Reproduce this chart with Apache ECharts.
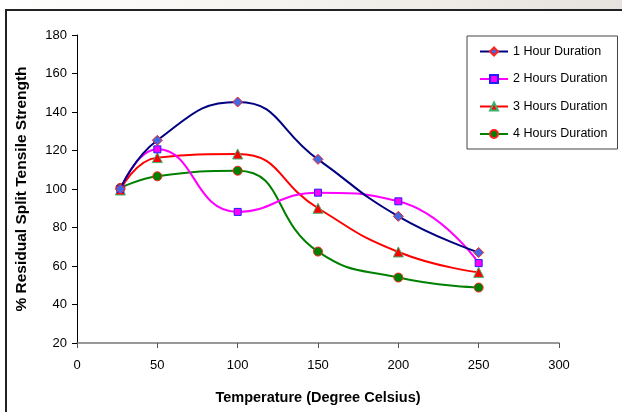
<!DOCTYPE html>
<html>
<head>
<meta charset="utf-8">
<script src="https://cdn.jsdelivr.net/npm/echarts@6/dist/echarts.min.js"></script>
<style>html,body{margin:0;padding:0;background:#fff;}#c{width:622px;height:412px;}</style>
</head>
<body>
<div id="c"></div>
<script>
const temps = [27, 50, 100, 150, 200, 250];
const oneHour = [100, 125.3, 145.2, 115.4, 85.8, 67];
const twoHours = [100, 120.6, 88.1, 98.1, 93.6, 61.5];
const threeHours = [99.5, 116.3, 118.2, 90, 67.3, 56.7];
const fourHours = [100.6, 106.6, 109.5, 67.5, 54, 48.8];
const seriesNames = ['1 Hour Duration', '2 Hours Duration', '3 Hours Duration', '4 Hours Duration'];
const xTicks = [0, 300, 50];
const yTicks = [20, 180, 20];

function pts(vals) { return temps.map((t, i) => [t, vals[i]]); }

const styles = [
  { line: '#000080', symbol: 'diamond', size: 10, fill: '#4169E1', border: '#FF2020' },
  { line: '#FF00FF', symbol: 'rect', size: 7, fill: '#FF00FF', border: '#2020FF' },
  { line: '#FF0000', symbol: 'triangle', size: 10, fill: '#FF0000', border: '#3CB371' },
  { line: '#008000', symbol: 'circle', size: 9, fill: '#008000', border: '#FF2020' }
];
const datas = [oneHour, twoHours, threeHours, fourHours];

const chart = echarts.init(document.getElementById('c'), null, { renderer: 'canvas' });
chart.setOption({
  animation: false,
  backgroundColor: '#fff',
  textStyle: { fontFamily: 'Liberation Sans, Arial, sans-serif' },
  graphic: [
    { type: 'rect', shape: { x: 0, y: 0, width: 622, height: 9 },
      style: { fill: new echarts.graphic.LinearGradient(0, 0, 1, 0, [
        { offset: 0, color: '#ffffff' }, { offset: 0.5, color: '#f4f2ee' }, { offset: 1, color: '#e6e3df' }]) }, silent: true },
    { type: 'polyline', shape: { points: [[6, 420], [6, 10], [630, 10]] },
      style: { stroke: '#222', lineWidth: 2, fill: null }, silent: true }
  ],
  grid: { left: 77, right: 63, top: 35, bottom: 69, containLabel: false },
  legend: {
    orient: 'vertical', left: 467, top: 36,
    padding: [9, 10, 8.5, 12], itemGap: 14.5, itemWidth: 28, itemHeight: 10,
    borderColor: '#444', borderWidth: 1, backgroundColor: '#fff',
    textStyle: { fontSize: 12.5, color: '#000', fontFamily: 'Liberation Sans, Arial, sans-serif' },
    data: seriesNames
  },
  xAxis: {
    type: 'value', min: xTicks[0], max: xTicks[1], interval: xTicks[2],
    name: 'Temperature (Degree Celsius)', nameLocation: 'middle', nameGap: 47,
    nameTextStyle: { fontSize: 14.5, fontWeight: 'bold', color: '#000' },
    axisLine: { show: true, lineStyle: { color: '#777', width: 1.5 } },
    axisTick: { show: true, inside: false, length: 5, lineStyle: { color: '#555' } },
    axisLabel: { fontSize: 13, color: '#000', margin: 16 },
    splitLine: { show: false }
  },
  yAxis: {
    type: 'value', min: yTicks[0], max: yTicks[1], interval: yTicks[2],
    name: '% Residual Split Tensile Strength', nameLocation: 'middle', nameGap: 47,
    nameTextStyle: { fontSize: 15.5, fontWeight: 'bold', color: '#000' },
    axisLine: { show: true, lineStyle: { color: '#000', width: 1 } },
    axisTick: { show: true, inside: false, length: 5, lineStyle: { color: '#000' } },
    axisLabel: { fontSize: 13, color: '#000', margin: 10 },
    splitLine: { show: false }
  },
  series: datas.map((d, i) => ({
    name: seriesNames[i], type: 'line', data: pts(d), smooth: 0.5,
    symbol: styles[i].symbol, symbolSize: styles[i].size, showSymbol: true,
    lineStyle: { color: styles[i].line, width: 2 },
    itemStyle: { color: styles[i].fill, borderColor: styles[i].border, borderWidth: 1 },
    z: 10 - i
  }))
});
</script>
</body>
</html>
